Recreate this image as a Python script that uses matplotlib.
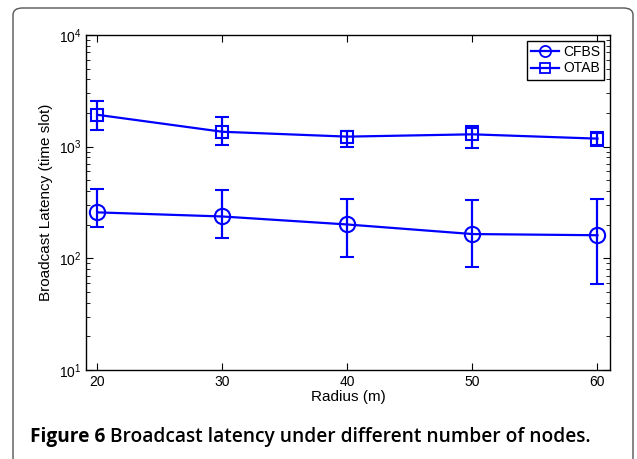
import matplotlib
matplotlib.use("Agg")
import matplotlib.pyplot as plt
from matplotlib.patches import FancyBboxPatch
from matplotlib.lines import Line2D
from matplotlib.ticker import LogLocator, NullFormatter

radius = [20, 30, 40, 50, 60]
cfbs = [258, 237, 201, 165, 161]
cfbs_hi = [420, 410, 343, 330, 340]
cfbs_lo = [189, 151, 102, 84, 59]
otab = [1930, 1360, 1230, 1290, 1180]
otab_hi = [2570, 1860, 1390, 1530, 1360]
otab_lo = [1420, 1030, 1000, 980, 1020]

W, H = 637, 459
fig = plt.figure(figsize=(W/100, H/100), dpi=100)
# rounded outer frame (bottom edge runs off the image)
fig.patches.append(FancyBboxPatch((13/W, -0.05), (633-13)/W, 1.05 - 8/H,
                                  boxstyle="round,pad=0,rounding_size=0.015",
                                  transform=fig.transFigure, fill=False, edgecolor="#555555", linewidth=1.0))

ax = fig.add_axes([86/W, 1-370/H, (610-86)/W, (370-35)/H])
blue = "#0000ff"
ax.errorbar(radius, cfbs, yerr=[[c - l for c, l in zip(cfbs, cfbs_lo)], [h - c for c, h in zip(cfbs, cfbs_hi)]],
            color=blue, marker="o", markersize=11, markerfacecolor="none", markeredgewidth=1.5,
            linewidth=1.6, capsize=5, capthick=1.6, elinewidth=1.6)
ax.errorbar(radius, otab, yerr=[[c - l for c, l in zip(otab, otab_lo)], [h - c for c, h in zip(otab, otab_hi)]],
            color=blue, marker="s", markersize=8, markerfacecolor="none", markeredgewidth=1.5,
            linewidth=1.6, capsize=5, capthick=1.6, elinewidth=1.6)
ax.set_yscale("log")
ax.set_ylim(10, 1e4)
ax.set_xlim(19.1, 61)
ax.set_xticks(radius)
ax.yaxis.set_major_locator(LogLocator(base=10, numticks=10))
ax.yaxis.set_minor_locator(LogLocator(base=10, subs=range(2, 10), numticks=20))
ax.yaxis.set_minor_formatter(NullFormatter())
ax.tick_params(which="both", direction="in", top=True, right=True, labelsize=10)
ax.tick_params(which="major", length=5)
ax.tick_params(which="minor", length=3)
for s in ax.spines.values():
    s.set_linewidth(1.0)
for lab in ax.get_xticklabels() + ax.get_yticklabels():
    lab.set_family("Liberation Sans")
ax.set_xlabel("Radius (m)", fontsize=11, family="Liberation Sans", labelpad=1)
ax.set_ylabel("Broadcast Latency (time slot)", fontsize=11, family="Liberation Sans", labelpad=4)
handles = [Line2D([], [], color=blue, marker="o", markersize=8, markerfacecolor="none", markeredgewidth=1.3, linewidth=1.6),
           Line2D([], [], color=blue, marker="s", markersize=6.5, markerfacecolor="none", markeredgewidth=1.3, linewidth=1.6)]
leg = ax.legend(handles, ["CFBS", "OTAB"], loc="upper right", prop={"family": "Liberation Sans", "size": 10},
                fancybox=False, edgecolor="black", framealpha=1, borderpad=0.3, handlelength=2.0,
                handletextpad=0.3, labelspacing=0.2, borderaxespad=0.4)
leg.get_frame().set_linewidth(1.0)

t1 = fig.text(30/W, 1-437/H, "Figure 6", fontsize=13.8, fontweight="bold", family="Open Sans", va="center")
fig.canvas.draw()
bb = t1.get_window_extent()
fig.text((bb.x1 + 5)/W, 1-437/H, "Broadcast latency under different number of nodes.", fontsize=13.8,
         fontweight="semibold", family="Open Sans", va="center")

fig.savefig("out.png", dpi=100)
